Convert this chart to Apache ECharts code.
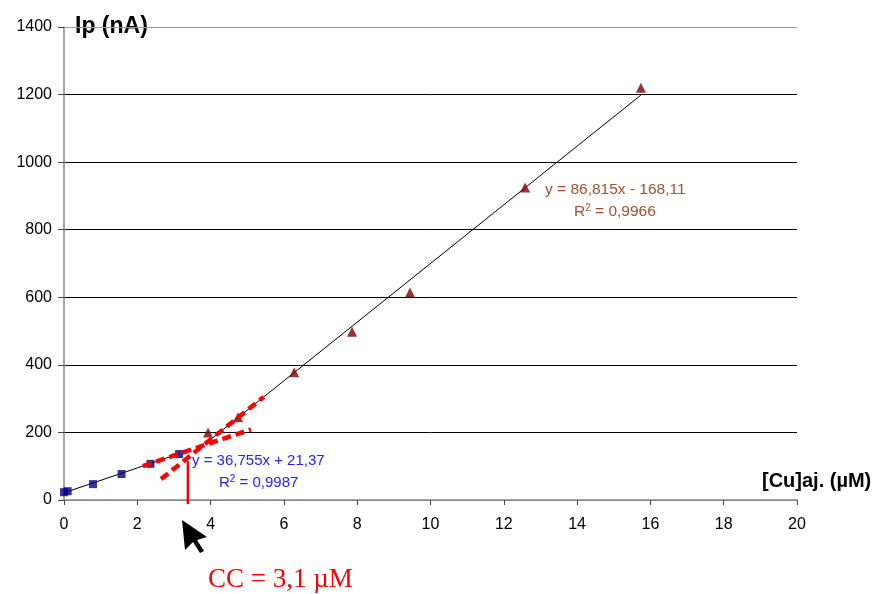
<!DOCTYPE html>
<html>
<head>
<meta charset="utf-8">
<script src="https://cdn.jsdelivr.net/npm/echarts@6/dist/echarts.min.js"></script>
<style>
html, body { margin: 0; padding: 0; background: #fff; }
#chart { width: 874px; height: 594px; }
</style>
</head>
<body>
<div id="chart"></div>
<script>
// points of the first segment (squares)
const lowX = [0, 0.1, 0.79, 1.57, 2.36, 3.14];
const lowY = [23, 26, 47, 77, 107, 136];
// points of the second segment (triangles)
const highX = [3.93, 4.75, 6.28, 7.86, 9.44, 12.58, 15.74];
const highY = [200, 245, 378, 498, 614, 925, 1220];

// trend lines y = a*x + b
const lowFit = { a: 36.755, b: 21.37, from: 0, to: 3.14 };
const highFit = { a: 86.815, b: -168.11, from: 3.93, to: 15.74 };
// red dashed extrapolations
const lowDash = { from: 2.15, to: 5.1 };
const highDash = { from: 2.65, to: 5.45 };
// CC marker
const ccX = 3.38;
const ccTop = 115;

const xTicks = [0, 2, 4, 6, 8, 10, 12, 14, 16, 18, 20];
const yTicks = [0, 200, 400, 600, 800, 1000, 1200, 1400];

const pairs = (xs, ys) => xs.map((x, i) => [x, ys[i]]);
const seg = (f, a, b) => [[a, f.a * a + f.b], [b, f.a * b + f.b]];

const chart = echarts.init(document.getElementById('chart'));

const font = 'Liberation Sans, Arial, sans-serif';
const option = {
    animation: false,
    textStyle: { fontFamily: font },
    grid: { left: 64, right: 77, top: 27, bottom: 94 },
    xAxis: {
        type: 'value',
        min: xTicks[0], max: xTicks[xTicks.length - 1], interval: 2,
        axisLine: { lineStyle: { color: '#888', width: 1.5 } },
        axisTick: { show: true, length: 5, lineStyle: { color: '#444' } },
        axisLabel: { color: '#000', fontSize: 16, margin: 17, formatter: v => String(v) },
        splitLine: { show: false }
    },
    yAxis: {
        type: 'value',
        min: yTicks[0], max: yTicks[yTicks.length - 1], interval: 200,
        axisLine: { show: true, lineStyle: { color: '#888', width: 1.5 } },
        axisTick: { show: true, length: 6, lineStyle: { color: '#444' } },
        axisLabel: { color: '#000', fontSize: 16, margin: 12, formatter: v => String(v) },
        splitLine: {
            show: true,
            lineStyle: { color: ['#888', '#000', '#000', '#000', '#000', '#000', '#000', '#999'], width: 1 }
        }
    },
    series: [
        {
            type: 'line', data: seg(lowFit, lowFit.from, lowFit.to),
            symbol: 'none', lineStyle: { color: '#000', width: 1 }, z: 2
        },
        {
            type: 'line', data: seg(highFit, highFit.from, highFit.to),
            symbol: 'none', lineStyle: { color: '#000', width: 1 }, z: 2
        },
        {
            type: 'line', data: seg(lowFit, lowDash.from, lowDash.to),
            symbol: 'none', lineStyle: { color: '#ff0000', width: 4.5, type: [9, 5] }, z: 4
        },
        {
            type: 'line', data: seg(highFit, highDash.from, highDash.to),
            symbol: 'none', lineStyle: { color: '#ff0000', width: 4.5, type: [9, 5] }, z: 4
        },
        {
            type: 'line', data: [[ccX, ccTop], [ccX, -12]], clip: false,
            symbol: 'none', lineStyle: { color: '#ff0000', width: 2.5 }, z: 4
        },
        {
            type: 'scatter', data: pairs(lowX, lowY),
            symbol: 'rect', symbolSize: 8, itemStyle: { color: '#000080' }, z: 3
        },
        {
            type: 'scatter', data: pairs(highX, highY),
            symbol: 'triangle', symbolSize: 10, itemStyle: { color: '#800000' }, z: 3
        }
    ],
    graphic: [
        { type: 'text', left: 75, top: 15, style: { text: 'Ip (nA)', font: 'bold 23px ' + font, fill: '#000' } },
        { type: 'text', left: 762, top: 471, style: { text: '[Cu]aj. (µM)', font: 'bold 20px ' + font, fill: '#000' } },
        { type: 'text', left: 545, top: 182, style: { text: 'y = 86,815x - 168,11', font: '15.5px ' + font, fill: '#a0522d' } },
        { type: 'text', left: 574, top: 203, style: { rich: { b: { fontSize: 15.5, fill: '#a0522d' }, s: { fontSize: 10, fill: '#a0522d', verticalAlign: 'top', padding: [0, 0, 8, 0] } }, text: '{b|R}{s|2}{b| = 0,9966}', font: '15.5px ' + font, fill: '#a0522d' } },
        { type: 'text', left: 192, top: 453, style: { text: 'y = 36,755x + 21,37', font: '15px ' + font, fill: '#2323ff' } },
        { type: 'text', left: 219, top: 474, style: { rich: { b: { fontSize: 15, fill: '#2323ff' }, s: { fontSize: 10, fill: '#2323ff', verticalAlign: 'top', padding: [0, 0, 8, 0] } }, text: '{b|R}{s|2}{b| = 0,9987}', font: '15px ' + font, fill: '#2323ff' } },
        { type: 'text', left: 208, top: 566, style: { text: 'CC = 3,1 µM', font: '27px Liberation Serif, Times New Roman, serif', fill: '#ff0000' } },
        {
            type: 'polygon',
            shape: { points: [[182, 520], [207, 537], [197, 540], [204, 551], [200, 553], [193, 542], [185, 550]] },
            style: { fill: '#000' }
        }
    ]
};

chart.setOption(option);
</script>
</body>
</html>
